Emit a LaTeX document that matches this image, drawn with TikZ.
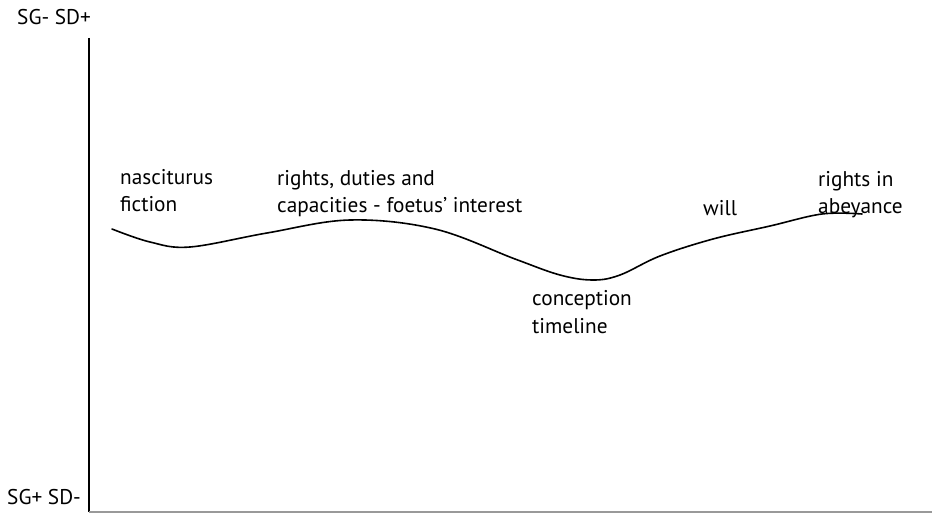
\documentclass[tikz,border=0pt]{standalone}
\usepackage{fontspec}
\setmainfont{PT Sans}
\begin{document}
\begin{tikzpicture}[x=1pt,y=-1pt,
  lbl/.style={anchor=base west,inner sep=0pt,align=left,font=\fontsize{21.3}{27.5}\selectfont},
  axis/.style={line width=1.5pt,black},
  curveline/.style={line width=1.6pt,black,line cap=round}]
\useasboundingbox (0,0) rectangle (932,513);
% axes
\coordinate (top) at (89,38);
\coordinate (origin) at (89,512);
\coordinate (xend) at (932,512);
\draw[axis] (top) -- (origin);
\draw[line width=1.5pt,black!40] (origin) -- (xend);
% labels (anchor at baseline of last line)
\node[lbl] (sgm) at (17,25) {SG- SD+};
\node[lbl] (sgp) at (7,504) {SG+ SD-};
\node[lbl] (nasc) at (120,212) {nasciturus\\fiction};
\node[lbl] (rights) at (277,213) {rights, duties and\\capacities - foetus' interest};
\node[lbl] (will) at (703,216) {will};
\node[lbl] (abey) at (818,214) {rights in\\abeyance};
\node[lbl] (conc) at (532,333) {conception\\timeline};
% curve
\draw[curveline] plot[smooth,tension=0.6] coordinates {(112,229) (150,242) (190,247) (267,233) (350,220) (435,229) (515,259) (560,275) (593,280) (620,275) (660,256) (713,239) (770,226) (822,214) (862,214)};
\end{tikzpicture}
\end{document}
